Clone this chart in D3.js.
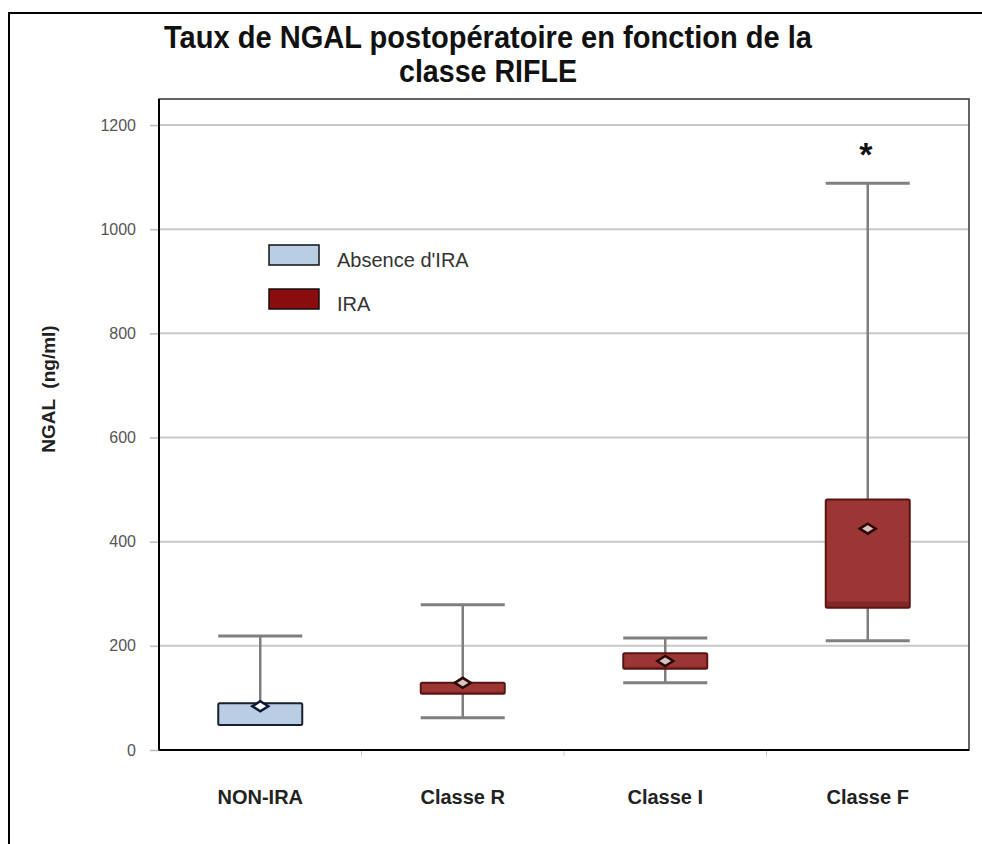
<!DOCTYPE html>
<html>
<head>
<meta charset="utf-8">
<script src="https://cdn.jsdelivr.net/npm/d3@7"></script>
<style>
  body { margin: 0; background: #fff; }
  svg { display: block; font-family: "Liberation Sans", Arial, sans-serif; }
</style>
</head>
<body>
<svg id="chart" width="982" height="844"></svg>
<script>
// ----------- DATA -----------
var categories = ["NON-IRA", "Classe R", "Classe I", "Classe F"];
var groups = ["absence", "ira", "ira", "ira"];
var whiskerLow = [48, 62, 129, 210];
var q1 = [48, 108, 156, 273];
var median = [90, 112, 160, 285];
var q3 = [90, 129, 186, 481];
var whiskerHigh = [219, 279, 215, 1088];
var means = [84, 129, 171, 425];
var yTicks = [0, 200, 400, 600, 800, 1000, 1200];
var legendLabels = ["Absence d'IRA", "IRA"];
var significant = [false, false, false, true];

// ----------- SETUP -----------
var svg = d3.select("#chart");

var plot = { left: 159, right: 969, top: 99, bottom: 750 };

var x = d3.scaleBand()
  .domain(categories)
  .range([plot.left, plot.right]);

var y = d3.scaleLinear()
  .domain([0, 1250])
  .range([plot.bottom, plot.top]);

var fills = { absence: "#b9cde5", ira: "#9b3634" };
var lowFills = { absence: "#b9cde5", ira: "#822826" };
var strokes = { absence: "#1a1f2e", ira: "#5a1414" };

// outer frame
svg.append("rect")
  .attr("x", 9).attr("y", 13)
  .attr("width", 1000).attr("height", 1000)
  .attr("fill", "none")
  .attr("stroke", "#000")
  .attr("stroke-width", 2);

// title
var title = svg.append("text")
  .attr("text-anchor", "middle")
  .attr("font-weight", "bold")
  .attr("font-size", 32)
  .attr("fill", "#111");
title.append("tspan")
  .attr("x", 488).attr("y", 48)
  .attr("textLength", 648)
  .attr("lengthAdjust", "spacingAndGlyphs")
  .text("Taux de NGAL postopératoire en fonction de la");
title.append("tspan")
  .attr("x", 488).attr("y", 82)
  .attr("textLength", 178)
  .attr("lengthAdjust", "spacingAndGlyphs")
  .text("classe RIFLE");

// gridlines
svg.append("g")
  .selectAll("line")
  .data(yTicks.filter(function(d) { return d > 0; }))
  .enter()
  .append("line")
  .attr("x1", plot.left).attr("x2", plot.right)
  .attr("y1", function(d) { return y(d); })
  .attr("y2", function(d) { return y(d); })
  .attr("stroke", "#c8c8c8")
  .attr("stroke-width", 2);

// y axis
var yAxis = svg.append("g")
  .attr("transform", "translate(" + plot.left + ",0)")
  .call(d3.axisLeft(y).tickValues(yTicks).tickFormat(d3.format("d")).tickSize(9).tickPadding(14));
yAxis.select(".domain").remove();
yAxis.selectAll(".tick line").attr("stroke", "#bbb").attr("stroke-width", 1.5);
yAxis.selectAll(".tick text")
  .attr("font-family", "'Liberation Sans', Arial, sans-serif")
  .attr("font-size", 16)
  .attr("fill", "#555");

// x axis boundary ticks
svg.append("g")
  .selectAll("line")
  .data(categories.slice(1))
  .enter()
  .append("line")
  .attr("x1", function(d) { return x(d); })
  .attr("x2", function(d) { return x(d); })
  .attr("y1", plot.bottom).attr("y2", plot.bottom + 6)
  .attr("stroke", "#ccc");

// plot frame
svg.append("rect")
  .attr("x", plot.left).attr("y", plot.top)
  .attr("width", plot.right - plot.left)
  .attr("height", plot.bottom - plot.top)
  .attr("fill", "none")
  .attr("stroke", "#333")
  .attr("stroke-width", 1.5);
svg.append("line")
  .attr("x1", plot.left).attr("x2", plot.right)
  .attr("y1", plot.bottom).attr("y2", plot.bottom)
  .attr("stroke", "#000").attr("stroke-width", 2);
svg.append("line")
  .attr("x1", plot.left).attr("x2", plot.left)
  .attr("y1", plot.top).attr("y2", plot.bottom)
  .attr("stroke", "#000").attr("stroke-width", 2);

// x labels
svg.append("g")
  .selectAll("text")
  .data(categories)
  .enter()
  .append("text")
  .attr("x", function(d) { return x(d) + x.bandwidth() / 2; })
  .attr("y", 804)
  .attr("text-anchor", "middle")
  .attr("font-weight", "bold")
  .attr("font-size", 20)
  .attr("fill", "#222")
  .text(function(d) { return d; });

// y label
svg.append("text")
  .attr("transform", "translate(55,389) rotate(-90)")
  .attr("text-anchor", "middle")
  .attr("font-weight", "bold")
  .attr("font-size", 19)
  .attr("fill", "#222")
  .attr("xml:space", "preserve")
  .text("NGAL  (ng/ml)");

// ----------- BOXES -----------
var boxW = 84;
var boxes = svg.append("g")
  .selectAll("g")
  .data(categories)
  .enter()
  .append("g");

function cx(i) { return x(categories[i]) + x.bandwidth() / 2; }

// whisker stems
boxes.append("line")
  .attr("x1", function(d, i) { return cx(i); })
  .attr("x2", function(d, i) { return cx(i); })
  .attr("y1", function(d, i) { return y(whiskerLow[i]); })
  .attr("y2", function(d, i) { return y(whiskerHigh[i]); })
  .attr("stroke", "#7f7f7f")
  .attr("stroke-width", 2.5);

// caps
boxes.selectAll(".cap")
  .data(function(d, i) { return [{ i: i, v: whiskerLow[i] }, { i: i, v: whiskerHigh[i] }]; })
  .enter()
  .append("line")
  .attr("class", "cap")
  .attr("x1", function(d) { return cx(d.i) - boxW / 2; })
  .attr("x2", function(d) { return cx(d.i) + boxW / 2; })
  .attr("y1", function(d) { return y(d.v); })
  .attr("y2", function(d) { return y(d.v); })
  .attr("stroke", function(d) { return d.v === q1[d.i] ? "none" : "#7f7f7f"; })
  .attr("stroke-width", 3);

// upper segment (median -> q3), drawn first so lower one overlaps the seam
boxes.append("rect")
  .attr("x", function(d, i) { return cx(i) - boxW / 2; })
  .attr("y", function(d, i) { return y(q3[i]); })
  .attr("width", boxW)
  .attr("height", function(d, i) { return y(median[i]) - y(q3[i]) + 1; })
  .attr("fill", function(d, i) { return fills[groups[i]]; });

// lower segment (q1 -> median)
boxes.append("rect")
  .attr("x", function(d, i) { return cx(i) - boxW / 2; })
  .attr("y", function(d, i) { return y(median[i]); })
  .attr("width", boxW)
  .attr("height", function(d, i) { return y(q1[i]) - y(median[i]); })
  .attr("fill", function(d, i) { return lowFills[groups[i]]; });

// box outline
boxes.append("rect")
  .attr("x", function(d, i) { return cx(i) - boxW / 2; })
  .attr("y", function(d, i) { return y(q3[i]); })
  .attr("width", boxW)
  .attr("height", function(d, i) { return y(q1[i]) - y(q3[i]); })
  .attr("fill", "none")
  .attr("rx", 1.5)
  .attr("stroke", function(d, i) { return strokes[groups[i]]; })
  .attr("stroke-width", 2);

// mean diamonds
boxes.append("path")
  .attr("d", function(d, i) {
    var px = cx(i), py = y(means[i]);
    return "M" + (px - 8) + "," + py + "L" + px + "," + (py - 5) +
      "L" + (px + 8) + "," + py + "L" + px + "," + (py + 5) + "Z";
  })
  .attr("fill", function(d, i) { return groups[i] === "ira" ? "#d9c3bf" : "#fff"; })
  .attr("stroke", function(d, i) { return groups[i] === "ira" ? "#2a0808" : "#0d1a33"; })
  .attr("stroke-width", 2.5);

// significance star
boxes.filter(function(d, i) { return significant[i]; })
  .append("text")
  .attr("x", function(d) { return cx(categories.indexOf(d)) - 2; })
  .attr("y", 166)
  .attr("text-anchor", "middle")
  .attr("font-weight", "bold")
  .attr("font-size", 34)
  .attr("fill", "#111")
  .text("*");

// ----------- LEGEND -----------
var legendFills = ["#b9cde5", "#8a0c0c"];
var legend = svg.append("g")
  .selectAll("g")
  .data(legendLabels)
  .enter()
  .append("g")
  .attr("transform", function(d, i) { return "translate(269," + (245 + i * 44) + ")"; });
legend.append("rect")
  .attr("width", 50).attr("height", 20)
  .attr("fill", function(d, i) { return legendFills[i]; })
  .attr("stroke", "#111")
  .attr("stroke-width", 1.5);
legend.append("text")
  .attr("x", 68).attr("y", 22)
  .attr("font-size", 20)
  .attr("fill", "#333")
  .text(function(d) { return d; });
</script>
</body>
</html>
